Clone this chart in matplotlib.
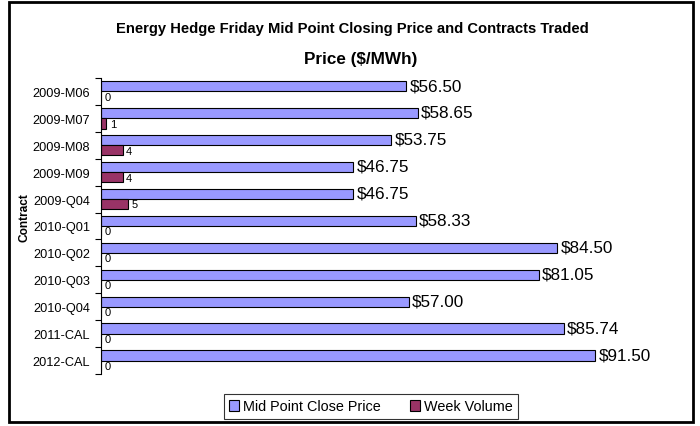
import numpy as np
import matplotlib
matplotlib.use("Agg")
import matplotlib.pyplot as plt
from matplotlib.patches import Patch, Rectangle

plt.rcParams['font.family'] = ['Liberation Sans', 'DejaVu Sans']

# data
contracts = ['2009-M06', '2009-M07', '2009-M08', '2009-M09', '2009-Q04', '2010-Q01',
             '2010-Q02', '2010-Q03', '2010-Q04', '2011-CAL', '2012-CAL']
prices = [56.50, 58.65, 53.75, 46.75, 46.75, 58.33, 84.50, 81.05, 57.00, 85.74, 91.50]
volumes = [0, 1, 4, 4, 5, 0, 0, 0, 0, 0, 0]

price_col = '#9999FF'
vol_col = '#993366'

fig = plt.figure(figsize=(7, 4.27), dpi=100)
ax = fig.add_axes([101 / 700, 52 / 427, 540 / 700, 296 / 427])

y = np.arange(len(contracts))
h = 0.38
ax.barh(y - 0.19, prices, height=h, color=price_col, edgecolor='black', linewidth=0.8)
ax.barh(y + 0.19, volumes, height=h, color=vol_col, edgecolor='black', linewidth=0.8)

# value labels
for yi, p in zip(y, prices):
    ax.text(p + 0.6, yi - 0.22, f'${p:.2f}', va='center', ha='left', fontsize=12.3)
for yi, v in zip(y, volumes):
    ax.text(v + 0.6, yi + 0.2, str(v), va='center', ha='left', fontsize=8)

ax.set_xlim(0, 100)
ax.set_ylim(len(contracts) - 0.5, -0.5)
ax.set_yticks(y)
ax.set_yticklabels(contracts, fontsize=9.2)
ax.set_yticks(np.arange(-0.5, len(contracts)), minor=True)
ax.tick_params(axis='y', which='major', length=0, pad=8)
ax.tick_params(axis='y', which='minor', length=4, width=0.8, direction='out')
ax.set_xticks([])
for s in ['top', 'right', 'bottom']:
    ax.spines[s].set_visible(False)
ax.spines['left'].set_linewidth(0.8)

fig.text(352 / 700, 1 - 29 / 427, 'Energy Hedge Friday Mid Point Closing Price and Contracts Traded',
         ha='center', va='center', fontsize=10.6, fontweight='bold')
fig.text(361 / 700, 1 - 60 / 427, 'Price ($/MWh)', ha='center', va='center',
         fontsize=12.3, fontweight='bold')
fig.text(25 / 700, 1 - 218 / 427, 'Contract', ha='center', va='center', rotation=90,
         fontsize=8.6, fontweight='bold')

handles = [Patch(facecolor=price_col, edgecolor='black', linewidth=0.8, label='Mid Point Close Price'),
           Patch(facecolor=vol_col, edgecolor='black', linewidth=0.8, label='Week Volume')]
leg = fig.legend(handles=handles, loc='center', bbox_to_anchor=(371 / 700, 1 - 407.5 / 427),
                 ncol=2, fontsize=10.4, frameon=True, fancybox=False, handlelength=0.7,
                 handleheight=0.7, handletextpad=0.3, columnspacing=2.0, borderpad=0.35,
                 borderaxespad=0)
leg.get_frame().set_edgecolor('black')
leg.get_frame().set_linewidth(0.8)

# outer chart border
fig.patches.append(Rectangle((9 / 700, 1 - 423 / 427), 684 / 700, 420 / 427,
                             transform=fig.transFigure, fill=False, edgecolor='black', linewidth=2))

fig.savefig('out.png', dpi=100)
